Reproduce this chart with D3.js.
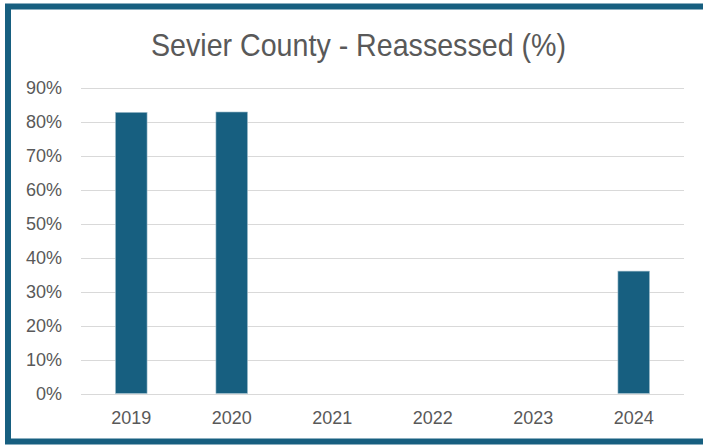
<!DOCTYPE html>
<html>
<head>
<meta charset="utf-8">
<script src="https://cdn.jsdelivr.net/npm/d3@7"></script>
<style>
  html, body { margin: 0; padding: 0; background: #fff; }
  svg { display: block; }
</style>
</head>
<body>
<svg id="chart" width="703" height="445"></svg>
<script>
// Reassessment share by year
const years = ["2019", "2020", "2021", "2022", "2023", "2024"];
const reassessed = [82.7, 82.8, 0, 0, 0, 36.0];
const yTicks = [0, 10, 20, 30, 40, 50, 60, 70, 80, 90];

const svg = d3.select("#chart");
const W = 703, H = 445;
const accent = "#175f80";
const labelFont = "'Liberation Sans', Arial, sans-serif";

// Outer frame
svg.append("rect")
  .attr("x", 8).attr("y", 6.5)
  .attr("width", W + 20).attr("height", H - 10)
  .attr("fill", "#fff")
  .attr("stroke", accent)
  .attr("stroke-width", 6);

const plot = { left: 81, right: 684, top: 87.5, bottom: 393.5 };

const x = d3.scaleBand()
  .domain(years)
  .range([plot.left, plot.right])
  .paddingInner(0.685)
  .paddingOuter(0.3425);

const y = d3.scaleLinear()
  .domain([0, 90])
  .range([plot.bottom, plot.top]);

// Title
svg.append("text")
  .attr("x", 151).attr("y", 55.5)
  .attr("font-family", labelFont)
  .attr("font-size", 32)
  .attr("textLength", 415)
  .attr("lengthAdjust", "spacingAndGlyphs")
  .attr("fill", "#595959")
  .text("Sevier County - Reassessed (%)");

// Gridlines
svg.append("g")
  .selectAll("line")
  .data(yTicks)
  .join("line")
  .attr("x1", plot.left).attr("x2", plot.right)
  .attr("y1", d => Math.round(y(d)) + 0.5)
  .attr("y2", d => Math.round(y(d)) + 0.5)
  .attr("stroke", "#d9d9d9")
  .attr("stroke-width", 1);

// Y axis labels
const yAxis = d3.axisLeft(y)
  .tickValues(yTicks)
  .tickFormat(d => d + "%")
  .tickSize(0)
  .tickPadding(0);
const gy = svg.append("g")
  .attr("transform", `translate(62,0)`)
  .call(yAxis);
gy.select(".domain").remove();
gy.selectAll("text")
  .attr("font-family", labelFont)
  .attr("font-size", 18)
  .attr("fill", "#595959");

// Bars
svg.append("g")
  .selectAll("rect")
  .data(years.map((yr, i) => ({ yr, v: reassessed[i] })).filter(d => d.v > 0))
  .join("rect")
  .attr("x", d => x(d.yr))
  .attr("y", d => y(d.v))
  .attr("width", x.bandwidth())
  .attr("height", d => y(0) - y(d.v))
  .attr("fill", accent)
  .attr("stroke", "#a9c3d0")
  .attr("stroke-width", 0.6);

// X axis labels
const xAxis = d3.axisBottom(x).tickSize(0).tickPadding(0);
const gx = svg.append("g")
  .attr("transform", `translate(0,${plot.bottom})`)
  .call(xAxis);
gx.select(".domain").remove();
gx.selectAll("text")
  .attr("dy", null)
  .attr("y", 30.8)
  .attr("font-family", labelFont)
  .attr("font-size", 18)
  .attr("fill", "#595959");
</script>
</body>
</html>
